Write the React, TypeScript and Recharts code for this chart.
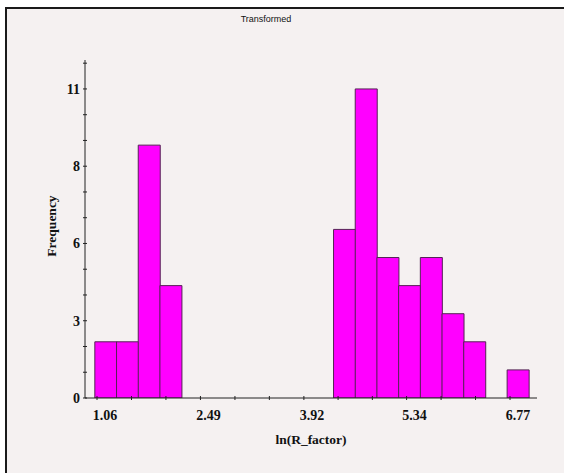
import React from 'react';
import { ComposedChart, Bar, XAxis, YAxis, Customized } from 'recharts';

// Histogram bins (centres of ln(R_factor) bins) and their frequencies
const binCenters = [1.18, 1.48, 1.78, 2.08, 2.38, 2.68, 2.98, 3.28, 3.58, 3.88, 4.18, 4.48, 4.78, 5.08, 5.38, 5.68, 5.98, 6.28, 6.58, 6.88];
const frequencies = [2, 2, 9, 4, 0, 0, 0, 0, 0, 0, 0, 6, 11, 5, 4, 5, 3, 2, 0, 1];

const xMajorTicks = [1.06, 2.49, 3.92, 5.34, 6.77];
const xAllTicks = [1.06, 1.537, 2.013, 2.49, 2.967, 3.443, 3.92, 4.393, 4.867, 5.34, 5.817, 6.293, 6.77];
const yMajorTicks = [0, 2.75, 5.5, 8.25, 11];
const yAllTicks = [0, 0.917, 1.833, 2.75, 3.667, 4.583, 5.5, 6.417, 7.333, 8.25, 9.167, 10.083, 11, 11.917];

const title = 'Transformed';
const xTitle = 'ln(R_factor)';
const yTitle = 'Frequency';

const data = binCenters.map((c, i) => ({ x: c, freq: frequencies[i] }));

const SERIF = '"Liberation Serif", "Times New Roman", serif';
const SANS = '"Liberation Sans", Arial, sans-serif';

const XTick = (props: any) => {
  const { x, y, payload } = props;
  const v = payload.value;
  const major = xMajorTicks.some((m) => Math.abs(m - v) < 1e-6);
  return (
    <g>
      <line x1={x} x2={x} y1={y - 2} y2={y + 2} stroke="#222" strokeWidth={1} />
      {major && (
        <text x={x + 8} y={y + 21.5} textAnchor="middle" fontFamily={SERIF} fontWeight="bold" fontSize={14} fill="#111">
          {v.toFixed(2)}
        </text>
      )}
    </g>
  );
};

const YTick = (props: any) => {
  const { x, y, payload } = props;
  const v = payload.value;
  const major = yMajorTicks.some((m) => Math.abs(m - v) < 1e-6);
  return (
    <g>
      <line x1={x - 2} x2={x + 2} y1={y} y2={y} stroke="#222" strokeWidth={1} />
      {major && (
        <text x={x - 5} y={y + 5} textAnchor="end" fontFamily={SERIF} fontWeight="bold" fontSize={14} fill="#111">
          {Math.round(v)}
        </text>
      )}
    </g>
  );
};

const Titles = () => (
  <g>
    <text x={266} y={22} textAnchor="middle" fontFamily={SANS} fontSize={9} fill="#111">{title}</text>
    <text x={311} y={443.5} textAnchor="middle" fontFamily={SERIF} fontWeight="bold" fontSize={13.5} fill="#111">{xTitle}</text>
    <text x={56} y={226} transform="rotate(-90, 56, 226)" textAnchor="middle" fontFamily={SERIF} fontWeight="bold" fontSize={13.5} fill="#111">{yTitle}</text>
  </g>
);

export default function App() {
  return (
    <div style={{ position: 'absolute', left: 0, top: 0, width: 564, height: 473, overflow: 'hidden', background: '#ffffff' }}>
      <div style={{ position: 'absolute', left: 5, top: 7, width: 620, height: 520, borderLeft: '2px solid #1a1a1a', borderTop: '2px solid #1a1a1a', background: '#f5f1f1' }} />
      <div style={{ position: 'absolute', left: 0, top: 0 }}>
        <ComposedChart width={564} height={473} data={data} margin={{ top: 60, right: 27, bottom: 74, left: 84 }} barCategoryGap={0} barGap={0}>
          <XAxis
            dataKey="x"
            type="number"
            domain={[0.894, 7.143]}
            allowDataOverflow
            ticks={xAllTicks}
            interval={0}
            height={1}
            tickSize={0}
            tickMargin={0}
            tickLine={false}
            tick={<XTick />}
            axisLine={{ stroke: '#222', strokeWidth: 1 }}
          />
          <YAxis
            type="number"
            domain={[0, 12.03]}
            allowDataOverflow
            ticks={yAllTicks}
            interval={0}
            width={1}
            tickSize={0}
            tickMargin={0}
            tickLine={false}
            tick={<YTick />}
            axisLine={{ stroke: '#222', strokeWidth: 1 }}
          />
          <Bar dataKey="freq" fill="#ff00ff" stroke="#552255" strokeWidth={1} isAnimationActive={false} />
          <Customized component={Titles} />
        </ComposedChart>
      </div>
    </div>
  );
}
